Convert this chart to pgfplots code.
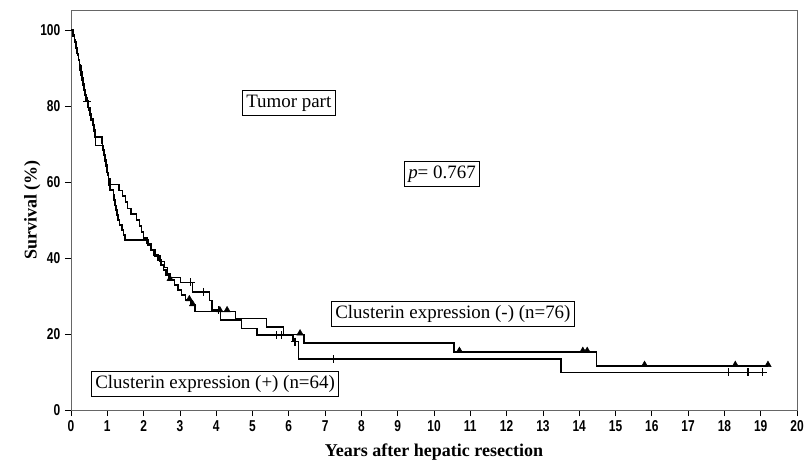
\documentclass[border=0pt]{standalone}
\usepackage{pgfplots}
\pgfplotsset{compat=1.18}
\usepackage{fontspec}
\setmainfont{Liberation Serif}
\newfontfamily\tickfont{Liberation Sans}[FakeStretch=0.76]
\begin{document}
\begin{tikzpicture}
\begin{axis}[
 at={(0,0)}, anchor=south west,
 scale only axis, width=544.5pt, height=300pt,
 xmin=0, xmax=20, ymin=0, ymax=105.3,
 xtick={0,1,...,20}, ytick={0,20,40,60,80,100},
 tick align=outside, major tick length=4.5pt,
 xtick pos=bottom, ytick pos=left,
 axis line style={black!60, line width=0.6pt},
 tick style={black, line width=0.6pt},
 ticklabel style={font=\tickfont\bfseries\fontsize{11.8}{13}\selectfont},
 /pgf/number format/assume math mode=true,
 xlabel={Years after hepatic resection}, ylabel={Survival (\%)},
 label style={font=\bfseries\fontsize{13.5}{15}\selectfont},
 xlabel style={at={(axis description cs:0.5,-0.117)}, anchor=base},
 ylabel style={at={(axis description cs:-0.0533,0.5)}, anchor=center},
 clip=false,
]
% Clusterin expression (-) (n=76)
\addplot[const plot, black, line width=1.1pt] coordinates {
(0,100)(0.05,98.7)(0.09,97.4)(0.12,96.1)(0.15,94.7)(0.18,93.4)(0.2,92.1)(0.23,90.8)(0.25,89.5)(0.28,88.2)(0.3,86.8)(0.33,85.5)(0.36,84.2)(0.38,82.9)(0.41,81.6)(0.45,80.3)(0.48,78.9)(0.52,77.6)(0.55,76.3)(0.6,75)(0.63,73.7)(0.66,72.4)(0.67,71.1)(0.68,69.7)(0.88,68.4)(0.91,67.1)(0.94,65.8)(0.97,64.5)(0.99,63.2)(1.01,61.8)(1.03,60.5)(1.05,59.2)(1.07,57.9)(1.17,56.6)(1.19,55.3)(1.21,53.9)(1.24,52.6)(1.27,51.3)(1.3,50)(1.34,48.7)(1.4,47.4)(1.44,46.1)(1.49,44.7)(2.12,43.4)(2.2,42.1)(2.28,40.8)(2.4,39.5)(2.48,38.2)(2.55,36.8)(2.62,35.5)(2.7,34.2)(2.85,32.9)(2.95,31.6)(3.05,30.3)(3.15,28.9)(3.3,27.6)(3.42,26.0)(4.53,24.1)(5.38,21.8)(5.85,19.9)(6.42,17.6)(10.55,15.3)(14.48,11.6)(19.2,11.6)};
\addplot[only marks, black, mark=triangle*, mark size=2.7pt, mark options={yshift=0.9pt}] coordinates {
(2.73,34.2)(3.26,28.9)(3.35,27.6)(4.1,26.0)(4.3,26.0)(6.31,19.9)(10.7,15.3)(14.1,15.3)(14.22,15.3)(15.8,11.6)(18.3,11.6)(19.2,11.6)};
% Clusterin expression (+) (n=64)
\addplot[const plot, black, line width=1.1pt] coordinates {
(0,100)(0.06,98.4)(0.1,96.9)(0.14,95.3)(0.17,93.8)(0.2,92.2)(0.24,90.6)(0.27,89.1)(0.3,87.5)(0.33,85.9)(0.37,84.4)(0.4,82.8)(0.43,81.3)(0.47,79.7)(0.52,78.1)(0.56,76.6)(0.6,75)(0.64,73.4)(0.66,71.9)(0.85,70.3)(0.87,68.8)(0.9,67.2)(0.93,65.6)(0.96,64.1)(0.99,62.5)(1.03,60.9)(1.07,59.4)(1.32,57.8)(1.42,56.3)(1.5,54.7)(1.56,53.1)(1.65,51.6)(1.8,50)(1.88,48.4)(1.94,46.9)(2.0,45.3)(2.1,43.8)(2.2,42.2)(2.32,40.6)(2.45,39.1)(2.58,37.5)(2.66,35.9)(2.73,34.9)(3.02,33.6)(3.35,31.1)(3.81,28.8)(3.88,26.3)(4.12,23.7)(4.7,21.5)(5.13,19.7)(6.12,18.0)(6.26,13.4)(13.5,9.9)(19.05,9.9)};
\addplot[only marks, black, mark=+, mark size=3pt, mark options={line width=0.8pt}] coordinates {
(0.45,81.3)(3.3,33.6)(3.66,31.1)(4.06,26.3)(5.65,19.7)(5.8,19.7)(6.17,18.0)(7.24,13.4)(18.1,9.9)(18.65,9.9)(19.05,9.9)};
\node[draw, line width=0.7pt, inner sep=3pt, font=\fontsize{14.2}{16}\selectfont, fill=white] at (axis cs:6.0,80.8) {Tumor part};
\node[draw, line width=0.7pt, inner sep=3pt, font=\fontsize{14.2}{16}\selectfont, fill=white] at (axis cs:10.22,62.1) {\textit{p}= 0.767};
\node[draw, line width=0.7pt, inner sep=3pt, font=\fontsize{14.2}{16}\selectfont, fill=white] at (axis cs:10.52,25.3) {Clusterin expression (-) (n=76)};
\node[draw, line width=0.7pt, inner sep=3pt, font=\fontsize{14.2}{16}\selectfont, fill=white] at (axis cs:3.97,6.8) {Clusterin expression (+) (n=64)};
\end{axis}
\pgfresetboundingbox
\useasboundingbox (-53.25pt,-39pt) rectangle (551.25pt,307.5pt);
\end{tikzpicture}
\end{document}
